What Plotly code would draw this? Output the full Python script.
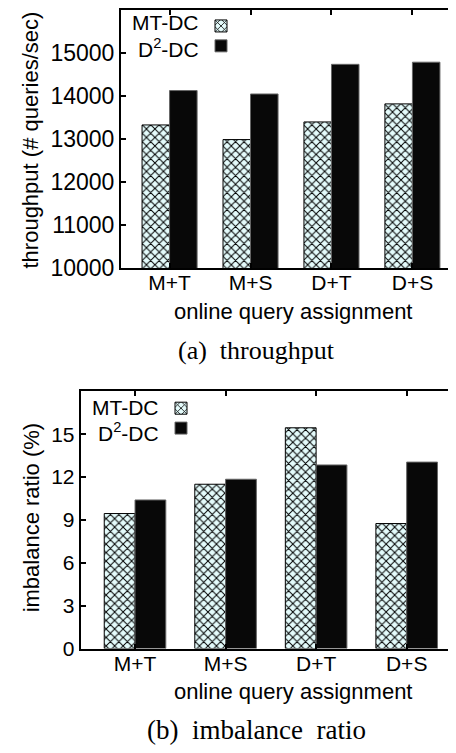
import plotly.graph_objects as go

# ---------------- data ----------------
categories = ["M+T", "M+S", "D+T", "D+S"]
series_names = ["MT-DC", "D<sup>2</sup>-DC"]

throughput_mt = [13330, 12990, 13400, 13820]
throughput_d2 = [14130, 14050, 14740, 14790]
throughput_ticks = [10000, 11000, 12000, 13000, 14000, 15000]

imbalance_mt = [9.45, 11.5, 15.45, 8.75]
imbalance_d2 = [10.4, 11.85, 12.85, 13.05]
imbalance_ticks = [0, 3, 6, 9, 12, 15]

# ---------------- styles ----------------
W, H = 456, 753
SANS = "Liberation Sans"
SERIF = "Liberation Serif"
NBSP = "\u00a0"

mt_marker = dict(
    color="#e4fbfb",
    line=dict(color="black", width=1),
    pattern=dict(shape="x", fgcolor="black", bgcolor="#e4fbfb", size=6,
                 solidity=0.3, fillmode="replace"),
)
d2_marker = dict(color="#080808", line=dict(color="#666666", width=1))

fig = go.Figure()

def add_pair(xa, ya, leg, mt_vals, d2_vals):
    fig.add_bar(x=categories, y=mt_vals, name=" ", xaxis=xa, yaxis=ya,
                legend=leg, marker=mt_marker,
                hovertemplate="MT-DC %{x}: %{y}<extra></extra>")
    fig.add_bar(x=categories, y=d2_vals, name=" ", xaxis=xa, yaxis=ya,
                legend=leg, marker=d2_marker,
                hovertemplate="D²-DC %{x}: %{y}<extra></extra>")

add_pair("x", "y", "legend", throughput_mt, throughput_d2)
add_pair("x2", "y2", "legend2", imbalance_mt, imbalance_d2)

def axis_common(fsize):
    return dict(
        showline=True, linewidth=2, linecolor="black", mirror="ticks",
        ticks="inside", ticklen=5, tickwidth=2, tickcolor="black",
        showgrid=False, zeroline=False,
        tickfont=dict(family=SANS, size=fsize, color="black"),
    )

def px_x(v):
    return v / W

def px_y(v):
    return 1 - v / H

fig.update_layout(
    width=W, height=H,
    margin=dict(l=0, r=0, t=0, b=0),
    paper_bgcolor="white", plot_bgcolor="white",
    barmode="group", bargap=0.32, bargroupgap=0,
    xaxis=dict(domain=[px_x(113), px_x(453)], anchor="y", type="category",
               range=[-0.6, 3.6], ticklabelstandoff=-5, **axis_common(21)),
    yaxis=dict(domain=[px_y(264), px_y(1.2)], anchor="x",
               range=[10000, 16000], tickvals=throughput_ticks,
               tickformat="d", ticklabelstandoff=0, **axis_common(23)),
    xaxis2=dict(domain=[px_x(72.7), px_x(453)], anchor="y2", type="category",
                range=[-0.6, 3.6], ticklabelstandoff=-5, **axis_common(21)),
    yaxis2=dict(domain=[px_y(651.7), px_y(389.6)], anchor="x2",
                range=[0, 18], tickvals=imbalance_ticks,
                ticksuffix=NBSP * 2, ticklabelstandoff=0, **axis_common(21)),
    legend=dict(x=px_x(193), y=px_y(27.5), xanchor="left", yanchor="middle",
                bgcolor="rgba(0,0,0,0)", font=dict(size=13, family=SANS),
                itemwidth=30, tracegroupgap=0),
    legend2=dict(x=px_x(153), y=px_y(417), xanchor="left", yanchor="middle",
                 bgcolor="rgba(0,0,0,0)", font=dict(size=13, family=SANS),
                 itemwidth=30, tracegroupgap=0),
)

ann = []
def text(x, y, s, size=22, family=SANS, angle=0, xanchor="center"):
    ann.append(dict(x=px_x(x), y=px_y(y), xref="paper", yref="paper", text=s,
                    showarrow=False, textangle=angle, xanchor=xanchor,
                    yanchor="middle",
                    font=dict(family=family, size=size, color="black")))

# legend labels (text left of swatch, as in the original)
text(193, 14, series_names[0], size=21, xanchor="right")
text(193, 40, series_names[1], size=21, xanchor="right")
text(153, 406, series_names[0], size=21, xanchor="right")
text(153, 431, series_names[1], size=21, xanchor="right")

# axis titles
text(23, 134, "throughput (# queries/sec)", angle=-90)
text(284.5, 308, "online query assignment")
text(23, 518, "imbalance ratio (%)", angle=-90)
text(284.5, 695, "online query assignment")

# captions
text(248, 348, "(a)  throughput", size=26, family=SERIF)
text(248, 735, "(b)  imbalance  ratio", size=27, family=SERIF)

fig.update_layout(annotations=ann)

fig.write_html("out.html")
